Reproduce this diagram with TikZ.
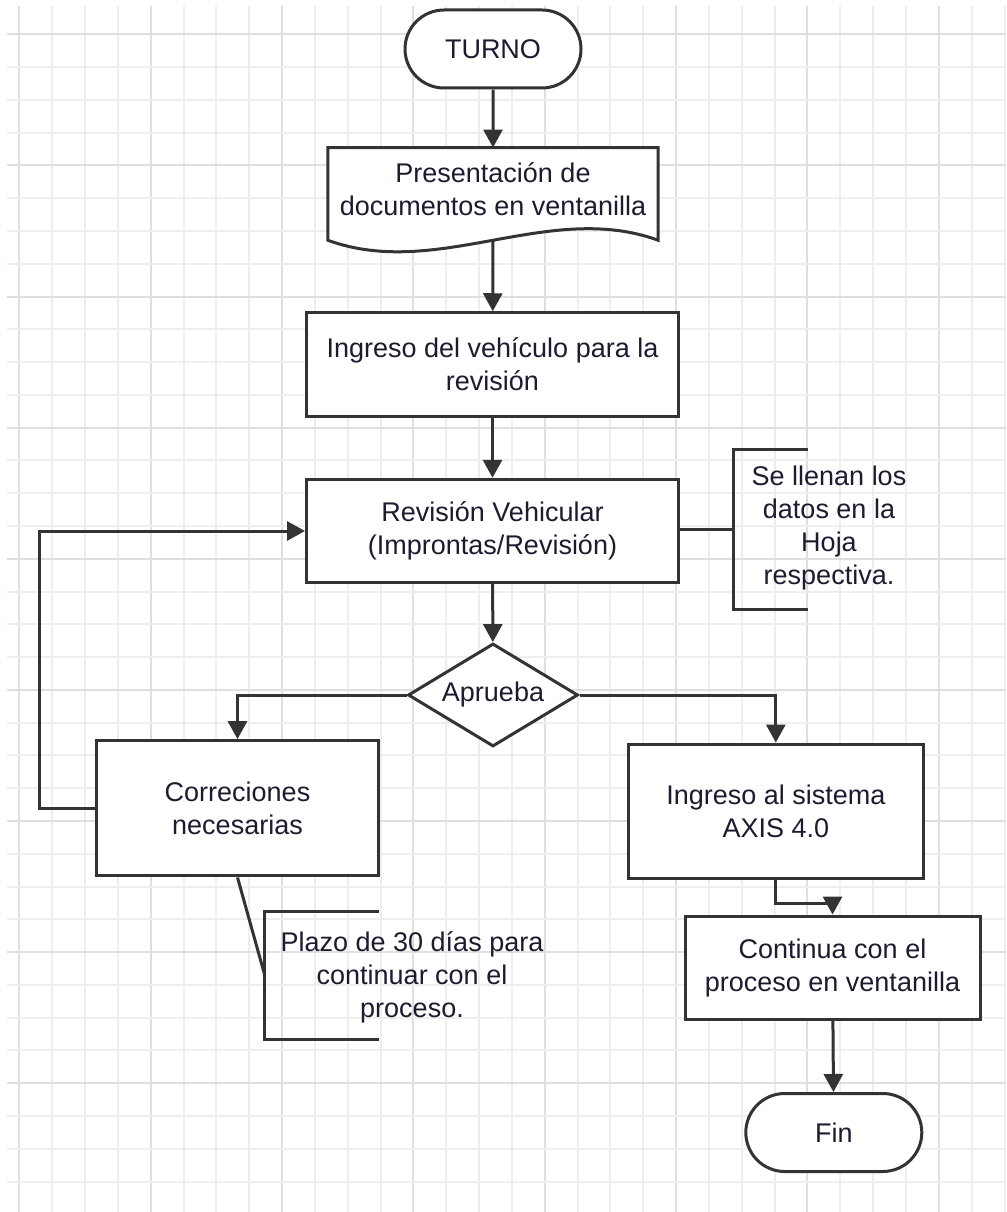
\documentclass[tikz,border=0pt]{standalone}
\usepackage{fontspec}
\setmainfont{Liberation Sans}
\usetikzlibrary{arrows.meta,shapes.misc,shapes.geometric,calc}
\pgfdeclarelayer{gridlayer}
\pgfdeclarelayer{background}
\pgfsetlayers{gridlayer,background,main}
\definecolor{lineclr}{HTML}{333333}
\definecolor{txtclr}{HTML}{1C1C30}
\definecolor{gridminor}{HTML}{EEEEEE}
\definecolor{gridmajor}{HTML}{DFDFDF}
\begin{document}
\begin{tikzpicture}[x=1pt,y=-1pt,
  every node/.style={text=txtclr, font=\fontsize{27}{33}\selectfont, inner sep=0pt, align=center},
  flowline/.style={draw=lineclr, line width=3pt},
  flow/.style={flowline, fill=white},
  procbox/.style={flow, rectangle},
  term/.style={flow, rounded rectangle, minimum width=176, minimum height=78},
  decision/.style={flow, diamond, aspect=1.65, minimum width=170, minimum height=103},
  frame/.style={draw=none, fill=none, rectangle},
  conn/.style={flowline, -{Triangle[width=19pt,length=18pt]}},
  gridmin/.style={draw=gridminor, line width=2pt},
  gridmaj/.style={draw=gridmajor, line width=2pt}]
\useasboundingbox (0,0) rectangle (1006,1212);

% grid
\begin{pgfonlayer}{gridlayer}
\fill[white] (0,0) rectangle (1006,1212);
\foreach \k in {0,...,30}{
  \pgfmathsetmacro\xx{19.3+32.84*\k}
  \pgfmathtruncatemacro\m{mod(\k,4)}
  \ifnum\m=0 \draw[gridmaj] (\xx,6) -- (\xx,1212); \else \draw[gridmin] (\xx,6) -- (\xx,1212); \fi
}
\foreach \k in {0,...,35}{
  \pgfmathsetmacro\yy{34.3+32.78*\k}
  \pgfmathtruncatemacro\m{mod(\k,4)}
  \ifnum\m=0 \draw[gridmaj] (7,\yy) -- (1006,\yy); \else \draw[gridmin] (7,\yy) -- (1006,\yy); \fi
}
\end{pgfonlayer}

% nodes
\node[term] (turno) at (493,49) {TURNO};
\node[frame, minimum width=330, minimum height=92.3] (doc) at (493,193.9) {};
\node (doctxt) at (493,189) {Presentación de\\documentos en ventanilla};
\begin{pgfonlayer}{background}
\draw[flow] (doc.south west) -- (doc.north west) -- (doc.north east) -- (doc.south east)
  .. controls ($(doc.south east)+(-110,-40)$) and ($(doc.south west)+(110,40)$) .. (doc.south west) -- cycle;
\end{pgfonlayer}
\node[procbox, minimum width=372, minimum height=103.3] (ingreso) at (492.5,364.4) {Ingreso del vehículo para la\\revisión};
\node[procbox, minimum width=372, minimum height=103.4] (revision) at (492.5,531) {Revisión Vehicular\\(Improntas/Revisión)};
\node[decision] (aprueba) at (493,695) {Aprueba};
\node[procbox, minimum width=281.6, minimum height=135.3] (correc) at (237.5,808.3) {Correciones\\necesarias};
\node[procbox, minimum width=295, minimum height=134.3] (axis) at (775.8,811.2) {Ingreso al sistema\\AXIS 4.0};
\node[procbox, minimum width=295, minimum height=103.3] (continua) at (832.5,967.7) {Continua con el\\proceso en ventanilla};
\node[term] (fin) at (833.8,1132.5) {Fin};

% annotations
\node[frame, minimum width=74, minimum height=159.7] (n1) at (771,529.2) {};
\node (n1txt) at (829,528) {Se llenan los\\datos en la\\Hoja\\respectiva.};
\draw[flowline] (n1.north east) -- (n1.north west) -- (n1.south west) -- (n1.south east);
\draw[flowline] (revision.east |- n1.west) -- (n1.west);

\node[frame, minimum width=114, minimum height=127.3] (n2) at (322,975.3) {};
\node (n2txt) at (412,977) {Plazo de 30 días para\\continuar con el\\proceso.};
\draw[flowline] (n2.north east) -- (n2.north west) -- (n2.south west) -- (n2.south east);
\draw[flowline] (correc.south) -- (n2.west);

% connectors
\draw[conn] (turno) -- (doc);
\draw[conn] (doc.south) -- (ingreso);
\draw[conn] (ingreso) -- (revision);
\draw[conn] (revision) -- (aprueba);
\draw[conn] (aprueba.west) -| (correc.north);
\draw[conn] (aprueba.east) -| (axis.north);
\draw[conn] (axis.south) -- ++(0,23.4) -| (continua.north);
\draw[conn] (continua) -- (fin);
\draw[conn] (correc.west) -- ++(-56,0) |- (revision.west);
\end{tikzpicture}
\end{document}
